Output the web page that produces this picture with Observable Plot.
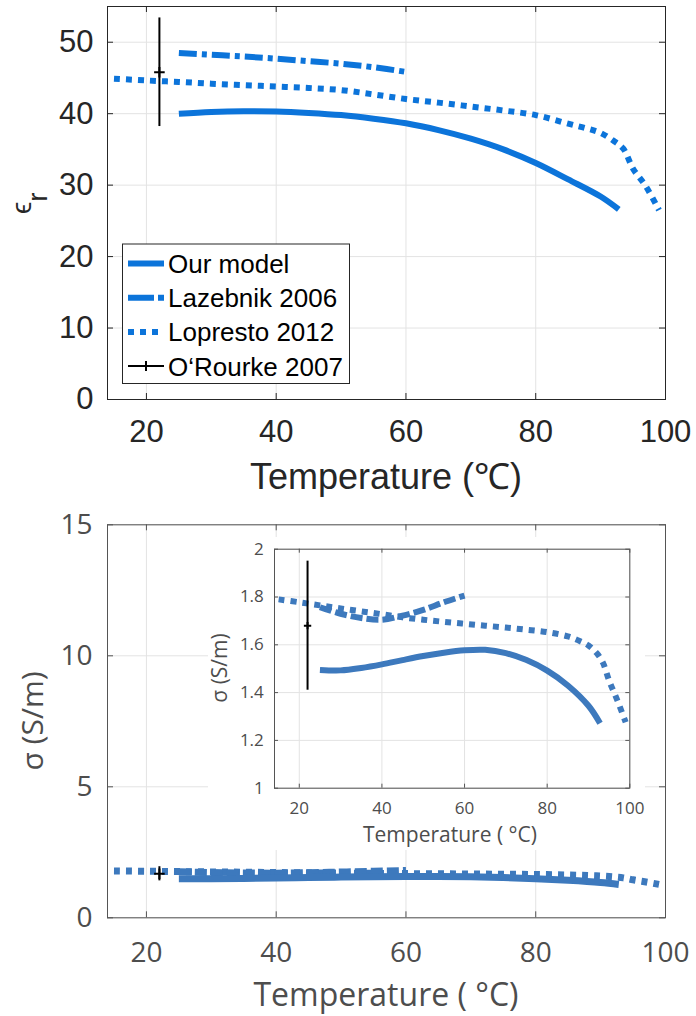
<!DOCTYPE html>
<html><head><meta charset="utf-8">
<script src="https://cdn.jsdelivr.net/npm/d3@7"></script>
<script src="https://cdn.jsdelivr.net/npm/@observablehq/plot@0.6"></script>
<style>
html,body{margin:0;padding:0;background:#fff;}
#page{position:relative;width:696px;height:1016px;overflow:hidden;background:#fff;}
#page > svg, #page > div{position:absolute;}
</style></head><body><div id="page"></div>
<script>
// ---------- data ----------
const xTicks = [20, 40, 60, 80, 100];
const epsTicks = [0, 10, 20, 30, 40, 50];
const sigTicks = [0, 5, 10, 15];
const insetTicks = [1, 1.2, 1.4, 1.6, 1.8, 2];
const seriesNames = ["Our model", "Lazebnik 2006", "Lopresto 2012", "O‘Rourke 2007"];

const modelT   = [25, 30, 35, 40, 45, 50, 55, 60, 65, 70, 75, 80, 85, 90, 92.8];
const modelEps = [40.0, 40.25, 40.35, 40.3, 40.1, 39.8, 39.3, 38.65, 37.7, 36.5, 35.0, 33.1, 30.8, 28.4, 26.6];
const modelSig = [1.495, 1.493, 1.503, 1.518, 1.536, 1.553, 1.567, 1.577, 1.579, 1.565, 1.536, 1.492, 1.43, 1.345, 1.272];

const lazT   = [25, 30, 35, 40, 45, 50, 55, 60];
const lazEps = [48.5, 48.25, 48.0, 47.7, 47.35, 47.0, 46.5, 45.85];
const lazSig = [1.757, 1.73, 1.712, 1.705, 1.722, 1.746, 1.778, 1.806];

const lopT   = [15, 20, 25, 30, 35, 40, 45, 50, 55, 60, 65, 70, 75, 80, 85, 88, 90, 92, 93.5, 95, 97, 99];
const lopEps = [44.9, 44.65, 44.45, 44.2, 44.0, 43.8, 43.6, 43.3, 42.7, 42.05, 41.55, 41.0, 40.45, 39.8, 38.6, 37.9, 37.3, 36.2, 35.1, 32.3, 29.8, 26.5];
const lopSig = [1.79, 1.778, 1.765, 1.752, 1.74, 1.728, 1.715, 1.705, 1.696, 1.688, 1.68, 1.672, 1.663, 1.653, 1.635, 1.615, 1.597, 1.565, 1.525, 1.45, 1.367, 1.276];

const obsT = [22];
const obsEps = [45.8], obsEpsErr = [7.6];
const obsSig = [1.68], obsSigErr = [0.27];

// ---------- helpers ----------
const rows = (T, V) => T.map((t, i) => ({t, v: V[i]}));
const errRows = (T, V, E) => T.map((t, i) => ({t, v: V[i], lo: V[i] - E[i], hi: V[i] + E[i]}));

function panel(o) {
  const fw = o.width - o.ml - o.mr, fh = o.height - o.mt - o.mb;
  const lineOpts = {x: "t", y: "v", stroke: o.color, strokeWidth: o.lw, strokeLinecap: "butt", strokeLinejoin: "round", curve: "catmull-rom"};
  const svg = Plot.plot({
    width: o.width, height: o.height,
    marginLeft: o.ml, marginRight: o.mr, marginTop: o.mt, marginBottom: o.mb,
    style: {fontFamily: o.font, fontSize: o.fs + "px", color: o.textColor, background: o.bg || "transparent", overflow: "visible"},
    x: {domain: [14, 100], ticks: xTicks, tickSize: 0, tickPadding: o.padX, label: null},
    y: {domain: o.ydomain, ticks: o.yticks, tickSize: 0, tickPadding: o.padY, label: null, tickFormat: o.fmt},
    marks: [
      Plot.ruleX(xTicks, {x: d => d, stroke: o.grid, strokeWidth: 1}),
      Plot.ruleY(o.yticks, {y: d => d, stroke: o.grid, strokeWidth: 1}),
      Plot.line(o.lop, {...lineOpts, strokeDasharray: o.dot}),
      Plot.line(o.laz, {...lineOpts, strokeDasharray: o.dash}),
      Plot.line(o.model, lineOpts),
      Plot.ruleX(o.obs, {x: "t", y1: "lo", y2: "hi", stroke: "#000", strokeWidth: 2}),
      Plot.dot(o.obs, {x: "t", y: "v", symbol: "plus", r: o.mr2, stroke: "#000", strokeWidth: 2}),
      Plot.frame({stroke: o.frame, strokeWidth: 1}),
      Plot.tickX(xTicks, {x: d => d, insetTop: fh - o.tick, stroke: o.frame}),
      Plot.tickX(xTicks, {x: d => d, insetBottom: fh - o.tick, stroke: o.frame}),
      Plot.tickY(o.yticks, {y: d => d, insetRight: fw - o.tick, stroke: o.frame}),
      Plot.tickY(o.yticks, {y: d => d, insetLeft: fw - o.tick, stroke: o.frame})
    ]
  });
  svg.style.left = o.left + "px";
  svg.style.top = o.top + "px";
  return svg;
}

const page = document.getElementById("page");
const blueTop = "#0c74da", blueBot = "#3d79bd";
const dashTop = "18,5,5,5", dotPat = "6,6", dashBot = "12,4";

// top panel: permittivity
page.appendChild(panel({
  left: 0, top: 0, width: 696, height: 500, ml: 107, mr: 31, mt: 6, mb: 101,
  font: "'Liberation Sans', Arial, sans-serif", fs: 31, textColor: "#262626",
  padX: 20, padY: 14, ydomain: [0, 55], yticks: epsTicks,
  grid: "#e3e3e3", frame: "#262626", tick: 6, color: blueTop, lw: 6,
  dash: dashTop, dot: dotPat, mr2: 3.5,
  model: rows(modelT, modelEps), laz: rows(lazT, lazEps), lop: rows(lopT, lopEps),
  obs: errRows(obsT, obsEps, obsEpsErr)
}));

// bottom panel: conductivity
page.appendChild(panel({
  left: 0, top: 500, width: 696, height: 516, ml: 107, mr: 31, mt: 24.3, mb: 98.7,
  font: "'Open Sans', sans-serif", fs: 28, textColor: "#4d4d4d",
  padX: 24, padY: 15, ydomain: [0, 15], yticks: sigTicks,
  grid: "#e3e3e3", frame: "#555", tick: 6, color: blueBot, lw: 7,
  dash: dashBot, dot: dotPat, mr2: 3.5,
  model: rows(modelT, modelSig), laz: rows(lazT, lazSig), lop: rows(lopT, lopSig),
  obs: errRows(obsT, obsSig, obsSigErr)
}));

// inset
page.appendChild(panel({
  left: 208, top: 537, width: 437, height: 313, ml: 66, mr: 15.7, mt: 11.7, mb: 62.3,
  font: "'Open Sans', sans-serif", fs: 17, textColor: "#4d4d4d", bg: "#fff",
  padX: 14, padY: 10.7, ydomain: [1, 2], yticks: insetTicks, fmt: d => String(d),
  grid: "#e3e3e3", frame: "#555", tick: 4, color: blueBot, lw: 6,
  dash: dashBot, dot: dotPat, mr2: 2.5,
  model: rows(modelT, modelSig), laz: rows(lazT, lazSig), lop: rows(lopT, lopSig),
  obs: errRows(obsT, obsSig, obsSigErr)
}));

// overlay: axis titles and legend
const ov = d3.select(page).append("svg").attr("width", 696).attr("height", 1016)
  .style("left", "0px").style("top", "0px").style("pointer-events", "none");

ov.append("text").attr("x", 386).attr("y", 489).attr("text-anchor", "middle")
  .attr("font-family", "'Liberation Sans', Arial, sans-serif").attr("font-size", 36).attr("fill", "#262626")
  .text("Temperature (℃)");
const yl = ov.append("text").attr("transform", "translate(31,214) rotate(-90)")
  .attr("font-family", "'Liberation Sans', 'DejaVu Sans', sans-serif").attr("font-size", 28).attr("fill", "#262626");
yl.append("tspan").text("ϵ");
yl.append("tspan").attr("dy", 16).text("r");

ov.append("text").attr("x", 386).attr("y", 1006).attr("text-anchor", "middle")
  .attr("font-family", "'Open Sans', sans-serif").attr("font-size", 32).attr("fill", "#4d4d4d")
  .text("Temperature ( °C)");
ov.append("text").attr("transform", "translate(43,721) rotate(-90)").attr("text-anchor", "middle")
  .attr("font-family", "'Open Sans', sans-serif").attr("font-size", 30).attr("fill", "#4d4d4d")
  .text("σ (S/m)");
ov.append("text").attr("x", 450).attr("y", 842).attr("text-anchor", "middle")
  .attr("font-family", "'Open Sans', sans-serif").attr("font-size", 21).attr("fill", "#4d4d4d")
  .text("Temperature ( °C)");
ov.append("text").attr("transform", "translate(227,668) rotate(-90)").attr("text-anchor", "middle")
  .attr("font-family", "'Open Sans', sans-serif").attr("font-size", 21).attr("fill", "#4d4d4d")
  .text("σ (S/m)");

// legend
const leg = ov.append("g");
leg.append("rect").attr("x", 122.5).attr("y", 244).attr("width", 227).attr("height", 139.5)
  .attr("fill", "#fff").attr("stroke", "#262626").attr("stroke-width", 1);
const legStyles = [
  {stroke: blueTop, w: 6, dash: null},
  {stroke: blueTop, w: 6, dash: "26,4,6,4"},
  {stroke: blueTop, w: 6, dash: dotPat},
  {stroke: "#000", w: 2, dash: null, plus: true}
];
seriesNames.forEach((name, i) => {
  const cy = 263.5 + i * 34.2;
  const s = legStyles[i];
  leg.append("line").attr("x1", 128).attr("x2", 164).attr("y1", cy).attr("y2", cy)
    .attr("stroke", s.stroke).attr("stroke-width", s.w).attr("stroke-dasharray", s.dash);
  if (s.plus) leg.append("line").attr("x1", 146).attr("x2", 146).attr("y1", cy - 5).attr("y2", cy + 5)
    .attr("stroke", "#000").attr("stroke-width", 2);
  leg.append("text").attr("x", 168).attr("y", cy + 9.5)
    .attr("font-family", "'Liberation Sans', Arial, sans-serif").attr("font-size", 26).attr("fill", "#000")
    .text(name);
});
</script>
</body></html>
